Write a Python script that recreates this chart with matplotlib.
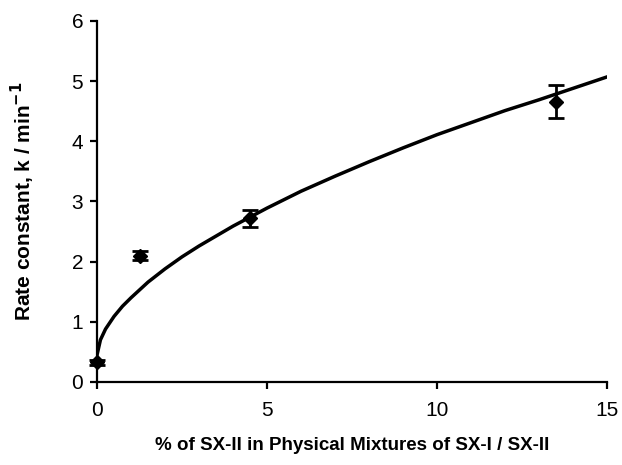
import matplotlib
matplotlib.use("Agg")
import matplotlib.pyplot as plt

## data
pct_sx2 = [0, 1.25, 4.5, 13.5]
rate_k = [0.33, 2.10, 2.72, 4.66]
rate_err = [0.04, 0.07, 0.14, 0.27]

# fitted curve
curve_x = [0, 0.1, 0.25, 0.5, 0.75, 1, 1.5, 2, 2.5, 3, 4, 5, 6, 7, 8, 9, 10, 11, 12, 13, 14, 15]
curve_y = [0.45, 0.70, 0.88, 1.09, 1.26, 1.40, 1.66, 1.88, 2.08, 2.26, 2.59, 2.89, 3.17, 3.42,
           3.66, 3.89, 4.11, 4.31, 4.51, 4.69, 4.88, 5.07]

x_ticks = [0, 5, 10, 15]
y_ticks = [0, 1, 2, 3, 4, 5, 6]

plt.rcParams['font.family'] = ['Liberation Sans', 'DejaVu Sans']

fig = plt.figure(figsize=(6.22, 4.65), dpi=100)
ax = fig.add_axes([0.156, 0.1785, 0.82, 0.7765])

ax.plot(curve_x, curve_y, color='black', lw=2.5, zorder=2)
ax.errorbar(pct_sx2, rate_k, yerr=rate_err, fmt='D', color='black', ms=7,
            elinewidth=2, capsize=6, capthick=2, zorder=3, clip_on=False)

ax.set_xlim(0, 15)
ax.set_ylim(0, 6)
ax.set_xticks(x_ticks)
ax.set_yticks(y_ticks)

for s in ['top', 'right']:
    ax.spines[s].set_visible(False)
for s in ['left', 'bottom']:
    ax.spines[s].set_linewidth(1.6)

ax.tick_params(axis='both', labelsize=15, width=1.6, length=5, direction='out')
ax.tick_params(axis='x', pad=9)
ax.tick_params(axis='y', pad=5)

ax.set_xlabel('% of SX-II in Physical Mixtures of SX-I / SX-II', fontsize=13.5,
              fontweight='bold', labelpad=12)
ax.set_ylabel('Rate constant, k / min$^{\\mathbf{-1}}$', fontsize=15,
              fontweight='bold', labelpad=25)

fig.savefig('out.png', dpi=100)
